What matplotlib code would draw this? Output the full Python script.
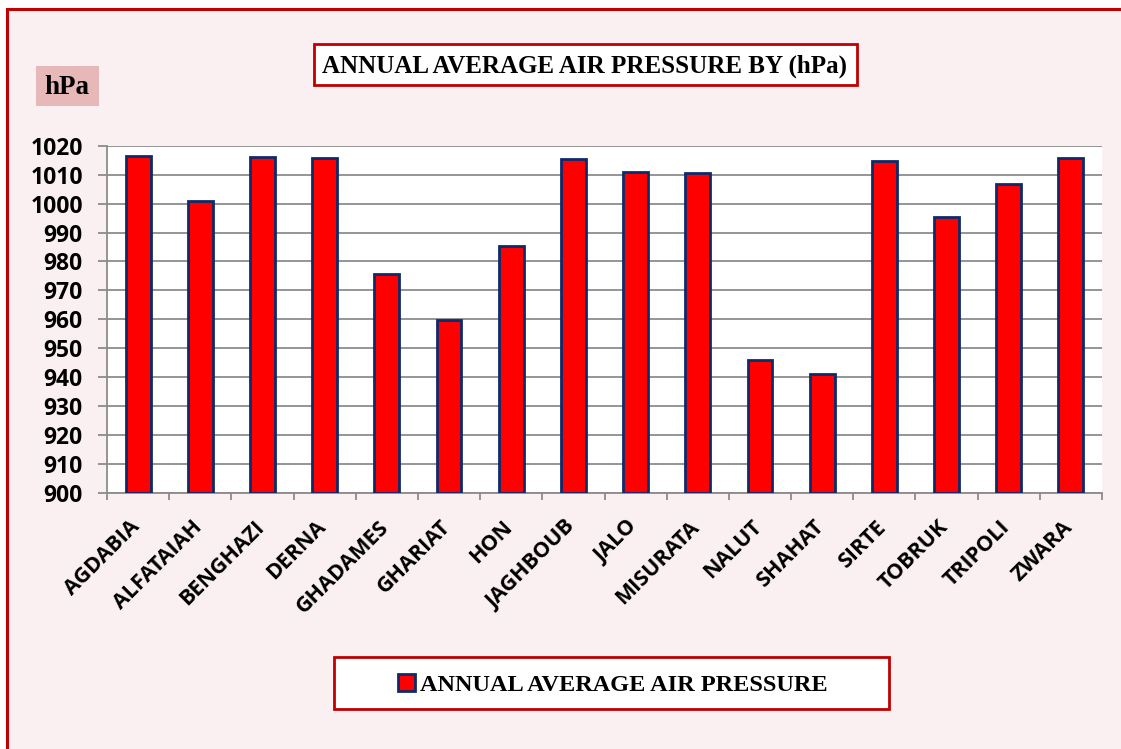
""" Annual average air pressure by station, bar chart. """

import matplotlib.pyplot as plt
import matplotlib.transforms as mtransforms
from matplotlib.patches import Rectangle, Patch

stations = ["AGDABIA", "ALFATAIAH", "BENGHAZI", "DERNA", "GHADAMES", "GHARIAT",
            "HON", "JAGHBOUB", "JALO", "MISURATA", "NALUT", "SHAHAT", "SIRTE",
            "TOBRUK", "TRIPOLI", "ZWARA"]
pressure = [1016.4, 1000.8, 1016.1, 1015.9, 975.5, 959.8, 985.3, 1015.4,
            1010.9, 1010.6, 945.8, 941.0, 1014.7, 995.2, 1006.7, 1015.9]
yticks = list(range(900, 1021, 10))

W, H = 1121, 749
fig = plt.figure(figsize=(W / 100, H / 100), dpi=100, facecolor="white")


def box(x0, y0, x1, y1, face, edge, lw=2.0, z=-5):
    # rectangle given in pixel coords from the top-left corner
    fig.patches.append(Rectangle((x0 / W, 1 - y1 / H), (x1 - x0) / W,
                                 (y1 - y0) / H, transform=fig.transFigure,
                                 facecolor=face, edgecolor=edge, linewidth=lw,
                                 zorder=z))


# pink panel with red border (right and bottom run off the image)
box(7, 9, 1200, 800, "#FBF0F1", "#C00000", lw=2.2, z=-10)

ax = fig.add_axes([107 / W, (H - 493) / H, 995 / W, (493 - 145.7) / H])
ax.set_facecolor("white")

x = list(range(len(stations)))
ax.bar(x, [p - 900 for p in pressure], bottom=900, width=0.4, color="#FF0000",
       edgecolor="#0D2A6B", linewidth=2, zorder=3)

ax.set_xlim(-0.5, len(stations) - 0.5)
ax.set_ylim(900, 1020)
ax.set_yticks(yticks)
ax.yaxis.grid(True, color="#8C8C8C", linewidth=1.3, zorder=0)
ax.set_axisbelow(True)

for s in ["top", "right"]:
    ax.spines[s].set_visible(False)
for s in ["left", "bottom"]:
    ax.spines[s].set_color("#8C8C8C")
    ax.spines[s].set_linewidth(1.3)

ax.tick_params(axis="y", direction="out", length=6.5, width=1.3, color="#8C8C8C",
               pad=11)
for lab in ax.get_yticklabels():
    lab.set_fontfamily("Open Sans")
    lab.set_fontweight("bold")
    lab.set_fontsize(16.5)

ax.set_xticks(x)
ax.set_xticklabels(stations, rotation=45, ha="right", rotation_mode="anchor",
                   fontfamily="Open Sans", fontweight="bold", fontsize=15.5)
ax.tick_params(axis="x", length=0, pad=17)
shift = mtransforms.ScaledTranslation(-9 / 100, 0, fig.dpi_scale_trans)
for lab in ax.get_xticklabels():
    lab.set_transform(lab.get_transform() + shift)
ax.set_xticks([i - 0.5 for i in range(len(stations) + 1)], minor=True)
ax.tick_params(axis="x", which="minor", direction="out", length=5, width=1.3,
               color="#8C8C8C")

# title box
box(314, 44, 857, 85, "white", "#C00000")
fig.text(585 / W, 1 - 66 / H, "ANNUAL AVERAGE AIR PRESSURE BY (hPa)",
         ha="center", va="center", fontfamily="Liberation Serif",
         fontweight="bold", fontsize=18)

# unit label
box(36, 66, 99, 106, "#E6B8B8", "none", lw=0)
fig.text(67 / W, 1 - 87 / H, "hPa", ha="center", va="center",
         fontfamily="Liberation Serif", fontweight="bold", fontsize=19.5)

# legend
box(334, 657, 889, 709, "white", "#C00000")
handle = Patch(facecolor="#FF0000", edgecolor="#0D2A6B", linewidth=2)
leg = fig.legend([handle], ["ANNUAL AVERAGE AIR PRESSURE"],
                 loc="center", bbox_to_anchor=(613 / W, 1 - 685 / H),
                 frameon=False, handlelength=0.7, handleheight=0.7,
                 handletextpad=0.2, borderpad=0, borderaxespad=0,
                 prop={"family": "Liberation Serif", "weight": "bold",
                       "size": 17.5})

fig.savefig("out.png", dpi=100, facecolor=fig.get_facecolor())
